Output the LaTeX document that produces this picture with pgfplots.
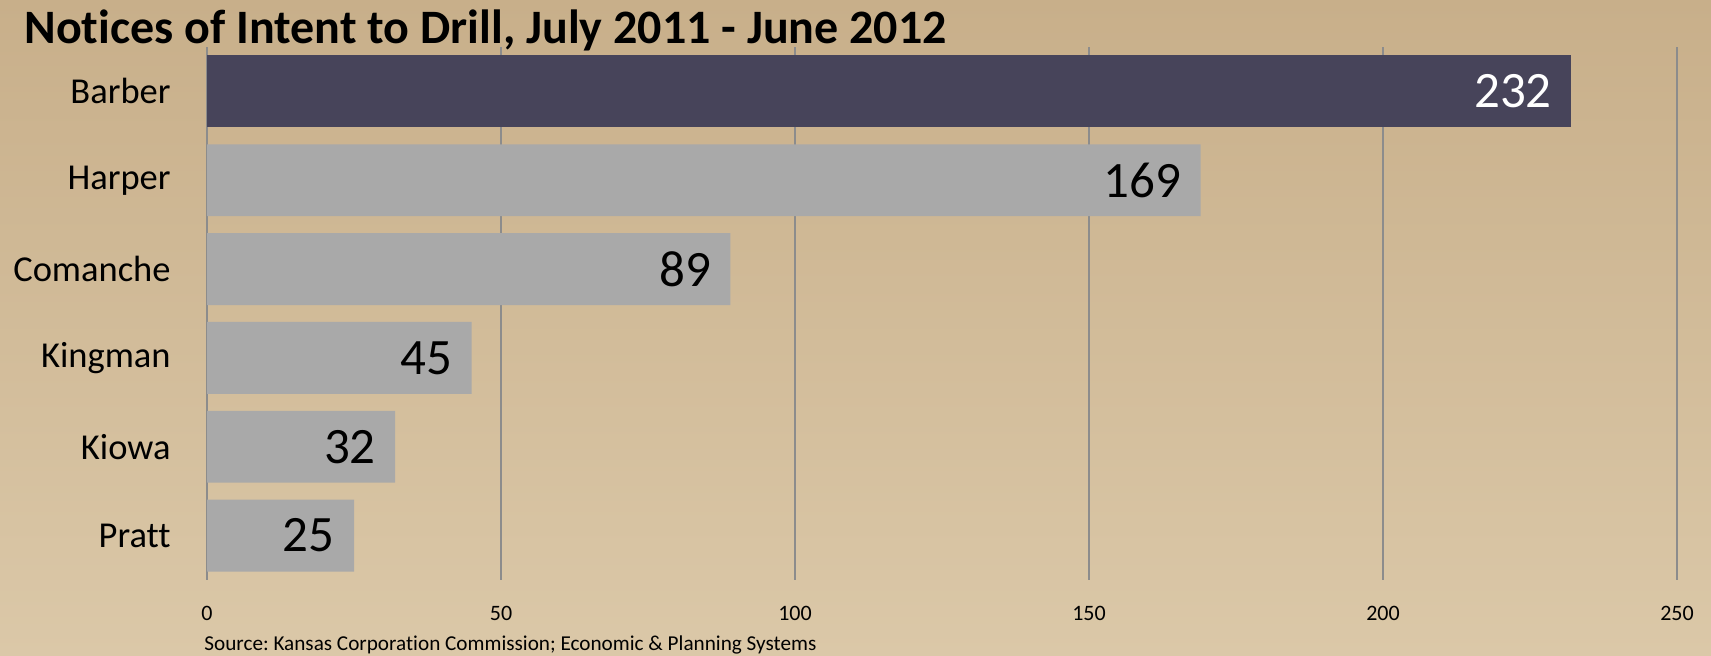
\documentclass[border=0pt]{standalone}
\usepackage{pgfplots}
\pgfplotsset{compat=1.18}
\usepackage{fontspec}
\setmainfont{Carlito}[Ligatures=NoCommon]
\frenchspacing
\definecolor{bgtop}{RGB}{200,175,138}
\definecolor{bgbot}{RGB}{219,200,168}
\definecolor{darkbar}{RGB}{71,68,90}
\definecolor{greybar}{RGB}{169,169,169}
\definecolor{gridc}{RGB}{140,140,140}
\begin{document}
\begin{tikzpicture}
\useasboundingbox (0,0) rectangle (855.5pt,328pt);
\shade[top color=bgtop, bottom color=bgbot] (0,0) rectangle (855.5pt,328pt);
\begin{axis}[
  at={(103.5pt,38pt)}, anchor=south west,
  scale only axis, width=735pt, height=266.5pt,
  xmin=0, xmax=250, ymin=-0.5, ymax=5.5, y dir=reverse,
  xtick={0,50,...,250}, ytick={0,...,5},
  yticklabels={Barber,Harper,Comanche,Kingman,Kiowa,Pratt},
  axis line style={draw=none}, major tick length=0pt,
  xmajorgrids, major grid style={draw=gridc, line width=1pt},
  /pgf/number format/assume math mode=true,
  xticklabel style={font=\fontsize{11}{13}\selectfont, anchor=center, yshift=-16.5pt, inner sep=0pt},
  yticklabel style={font=\fontsize{18.25}{20}\selectfont, anchor=east, inner sep=0pt, xshift=-18pt},
  clip=false,
]
\addplot[xbar, bar shift=0pt, bar width=0.81, fill=darkbar, draw=none,
  point meta=x, nodes near coords,
  every node near coord/.append style={anchor=east, xshift=-9.5pt, inner sep=0pt, text=white, font=\fontsize{25.5}{28}\selectfont}]
  coordinates {(232,0)};
\addplot[xbar, bar shift=0pt, bar width=0.81, fill=greybar, draw=none,
  point meta=x, nodes near coords,
  every node near coord/.append style={anchor=east, xshift=-9.5pt, inner sep=0pt, text=black, font=\fontsize{25.5}{28}\selectfont}]
  coordinates {(169,1) (89,2) (45,3) (32,4) (25,5)};
\end{axis}
\node[anchor=base west, inner sep=0pt, font=\bfseries\fontsize{24}{28}\selectfont] at (12pt,306pt) {Notices of Intent to Drill, July 2011 - June 2012};
\node[anchor=base west, inner sep=0pt, font=\fontsize{10.6}{12}\selectfont] at (102pt,2.5pt) {Source: Kansas Corporation Commission; Economic \& Planning Systems};
\end{tikzpicture}
\end{document}
